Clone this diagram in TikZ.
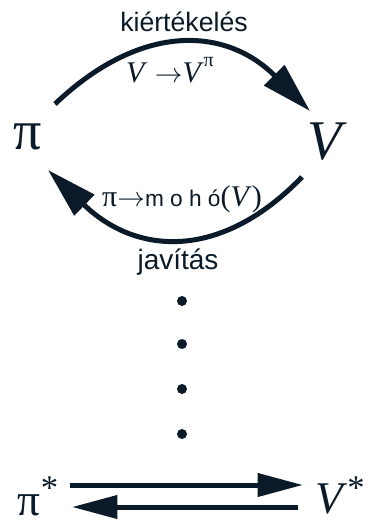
\documentclass[tikz,border=0pt]{standalone}
\usepackage{fontspec}
\setmainfont{Liberation Serif}
\setsansfont{Liberation Sans}
\usetikzlibrary{arrows.meta}
\definecolor{ink}{HTML}{0A1A28}
\tikzset{
  lbl/.style={inner sep=0pt, anchor=base, text=ink},
  bigsym/.style={lbl, font=\fontsize{42}{42}\selectfont},
  endsym/.style={lbl, font=\fontsize{34}{34}\selectfont},
  loopline/.style={draw=ink, line width=3.75pt, -{Triangle[length=38pt,width=21pt]}},
  flatline/.style={draw=ink, line width=3.75pt, -{Triangle[length=34pt,width=17pt]}}
}

\begin{document}
\begin{tikzpicture}[x=0.75pt, y=-0.75pt]
  \useasboundingbox (0,0) rectangle (369,523);
  % policy and value
  \node[bigsym] (pi) at (28,150) {π};
  \node[bigsym] (val) at (327,160) {\textit{V}};
  % evaluation loop
  \node[lbl, font=\fontsize{22.5}{22.5}\selectfont] (evalRule) at (170,83) {\textit{V} $\rightarrow$\textit{V}\raisebox{0.55em}{\fontsize{15}{15}\selectfont π}};
  \node[lbl, font=\sffamily\fontsize{20}{20}\selectfont] (evalTxt) at (184,32) {kiértékelés};
  \coordinate (evalFrom) at (55,104);
  \coordinate (evalTo) at (310,111);
  \draw[loopline] (evalFrom) .. controls (140,23) and (225,26) .. (evalTo);
  % improvement loop
  \node[lbl, font=\fontsize{22.5}{22.5}\selectfont] (impRule) at (182,207) {π$\rightarrow${\sffamily\fontsize{17}{17}\selectfont m o h ó}(\textit{V})};
  \node[lbl, font=\sffamily\fontsize{21}{21}\selectfont] (impTxt) at (178,270) {javítás};
  \coordinate (impFrom) at (302,177);
  \coordinate (impTo) at (48,170);
  \draw[loopline] (impFrom) .. controls (223,259) and (138,257) .. (impTo);
  % iterations
  \foreach \y [count=\k] in {301,344,389,434} {
    \fill[ink] (182,\y) circle (5) coordinate (dot\k);
  }
  % optimum
  \node[endsym] (piStar) at (38,515) {π\raisebox{0.35em}{\fontsize{26}{26}\selectfont *}};
  \node[endsym] (valStar) at (340,513) {\textit{V}\raisebox{0.3em}{\fontsize{26}{26}\selectfont *}};
  \coordinate (starA) at (70,485);
  \coordinate (starB) at (303,485);
  \coordinate (starC) at (298,507);
  \coordinate (starD) at (72,507);
  \draw[flatline] (starA) -- (starB);
  \draw[flatline] (starC) -- (starD);
\end{tikzpicture}
\end{document}
